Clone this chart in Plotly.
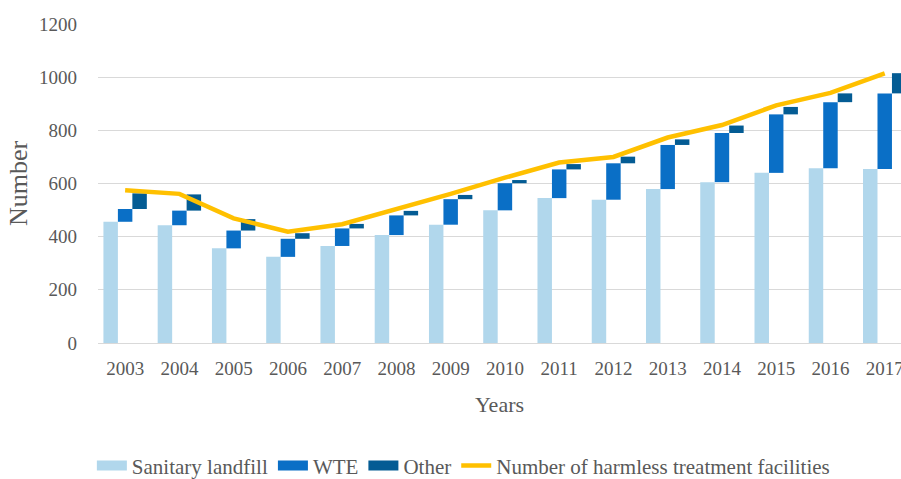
import plotly.graph_objects as go

years = ["2003", "2004", "2005", "2006", "2007", "2008", "2009", "2010",
         "2011", "2012", "2013", "2014", "2015", "2016", "2017"]
landfill = [456, 443, 356, 324, 365, 406, 445, 499, 545, 539, 579, 605, 640, 657, 655]
wte = [48, 55, 67, 68, 66, 74, 96, 102, 108, 137, 166, 185, 220, 249, 284]
other = [59, 61, 43, 21, 17, 17, 16, 12, 20, 25, 21, 28, 28, 33, 76]
total = [575, 561, 469, 419, 447, 502, 561, 622, 679, 700, 773, 820, 894, 941, 1014]

wte_base = landfill
other_base = [a + b for a, b in zip(landfill, wte)]

FONT = "Liberation Serif"
GREY = "#595959"
C_LAND = "#b1d7ec"
C_WTE = "#0a6fc6"
C_OTHER = "#045c94"
C_LINE = "#ffc000"

fig = go.Figure()
fig.add_trace(go.Bar(x=years, y=landfill, name="Sanitary landfill", showlegend=False,
                     marker=dict(color=C_LAND, line=dict(width=0)), offsetgroup="a"))
fig.add_trace(go.Bar(x=years, y=wte, base=wte_base, name="WTE", showlegend=False,
                     marker=dict(color=C_WTE, line=dict(width=0)), offsetgroup="b"))
fig.add_trace(go.Bar(x=years, y=other, base=other_base, name="Other", showlegend=False,
                     marker=dict(color=C_OTHER, line=dict(width=0)), offsetgroup="c"))
fig.add_trace(go.Scatter(x=years, y=total, mode="lines", showlegend=False,
                         name="Number of harmless treatment facilities",
                         line=dict(color=C_LINE, width=4.5)))

# legend entries (wide swatches like the reference)
for nm, col, w in [("Sanitary landfill", C_LAND, 10), ("WTE", C_WTE, 10),
                   ("Other", C_OTHER, 10),
                   ("Number of harmless treatment facilities", C_LINE, 4.5)]:
    fig.add_trace(go.Scatter(x=[years[0]], y=[None], mode="lines", name=nm,
                             line=dict(color=col, width=w), hoverinfo="skip"))

fig.update_layout(
    width=901, height=479,
    margin=dict(l=98, r=0, t=24, b=136, autoexpand=False),
    paper_bgcolor="white", plot_bgcolor="white",
    barmode="group", bargap=0.2, bargroupgap=0,
    font=dict(family=FONT, color=GREY, size=19),
    showlegend=True,
    legend=dict(orientation="h", x=0.455, xanchor="center", y=-0.385, yanchor="middle",
                font=dict(family=FONT, size=21, color=GREY), traceorder="normal",
                itemwidth=30, tracegroupgap=0),
    xaxis=dict(type="category", range=[-0.5, 14.3], showgrid=False, automargin=False,
               showline=True, linecolor="#d9d9d9", linewidth=1,
               ticks="", ticklabelstandoff=8, tickfont=dict(family=FONT, size=19, color=GREY),
               title=dict(text="Years", font=dict(family=FONT, size=22, color=GREY), standoff=18)),
    yaxis=dict(range=[0, 1200], tickvals=[0, 200, 400, 600, 800, 1000, 1200],
               showgrid=True, gridcolor="#d9d9d9", gridwidth=1, zeroline=False, automargin=False,
               ticks="", ticklabelstandoff=20,
               tickfont=dict(family=FONT, size=19, color=GREY),
               title=dict(text="Number", font=dict(family=FONT, size=26, color=GREY), standoff=3)),
)

fig.write_html("out.html", config={"displayModeBar": False},
               post_script="document.body.style.margin='0';document.body.style.overflow='hidden';")
